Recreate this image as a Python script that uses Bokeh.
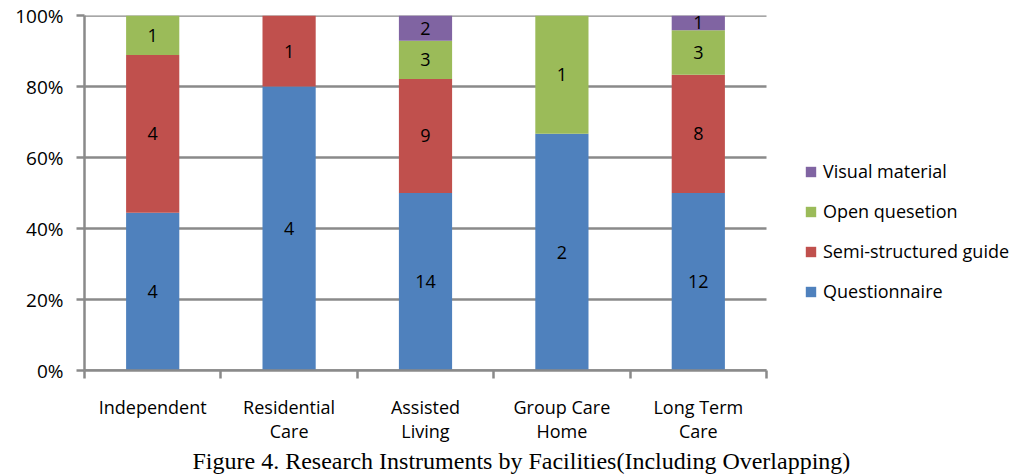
from bokeh.plotting import figure
from bokeh.models import (FixedTicker, Legend, LegendItem, Title, ColumnDataSource,
                          Range1d, NumeralTickFormatter)
from bokeh.core.properties import value
from bokeh.embed import file_html
from bokeh.resources import INLINE

# Facilities and the number of studies using each research instrument
facilities = ["Independent", "Residential Care", "Assisted Living", "Group Care Home", "Long Term Care"]
facility_tick_labels = ["Independent", "Residential\nCare", "Assisted\nLiving", "Group Care\nHome", "Long Term\nCare"]
series_names = ["Questionnaire", "Semi-structured guide", "Open quesetion", "Visual material"]
questionnaire = [4, 4, 14, 2, 12]
semi_structured = [4, 1, 9, 0, 8]
open_question = [1, 0, 3, 1, 3]
visual_material = [0, 0, 2, 0, 1]
series_colors = ["#4F81BD", "#C0504D", "#9BBB59", "#8064A2"]
y_ticks = [0, 0.2, 0.4, 0.6, 0.8, 1.0]

FONT = "Open Sans"
GRID = "#8A8A8A"

counts = [questionnaire, semi_structured, open_question, visual_material]
n = len(facilities)
totals = [sum(c[i] for c in counts) for i in range(n)]
x_pos = [i + 0.5 for i in range(n)]

# the frame runs to the right edge so the legend has room beside the bars;
# the category area itself spans 0..n
PLOT_W, LEFT, AREA_RIGHT = 1036, 84, 766
x_max = n * (PLOT_W - LEFT) / (AREA_RIGHT - LEFT)

p = figure(width=PLOT_W, height=476, x_range=Range1d(0, x_max), y_range=Range1d(0, 1),
           output_backend="svg", toolbar_location=None,
           min_border_left=LEFT, min_border_right=0, min_border_top=15, min_border_bottom=106)
p.outline_line_color = None
p.background_fill_color = "white"
p.border_fill_color = "white"

# horizontal gridlines over the category area only
p.xgrid.visible = False
p.ygrid.visible = False
p.segment(x0=[0] * len(y_ticks), x1=[n] * len(y_ticks), y0=y_ticks, y1=y_ticks,
          line_color=GRID, line_width=2.5)

# stacked 100% bars
bottoms = [0.0] * n
renderers = []
lab_x, lab_y, lab_t = [], [], []
for name, vals, color in zip(series_names, counts, series_colors):
    shares = [v / t for v, t in zip(vals, totals)]
    tops = [b + s for b, s in zip(bottoms, shares)]
    src = ColumnDataSource(dict(x=x_pos, bottom=list(bottoms), top=tops))
    r = p.vbar(x="x", bottom="bottom", top="top", width=0.39, source=src,
               fill_color=color, line_color=None)
    renderers.append((name, r))
    for xi, b, t, v in zip(x_pos, bottoms, tops, vals):
        if v > 0:
            lab_x.append(xi)
            lab_y.append((b + t) / 2)
            lab_t.append(str(v))
    bottoms = tops

p.text(x="x", y="y", text="t", source=ColumnDataSource(dict(x=lab_x, y=lab_y, t=lab_t)),
       text_align="center", text_baseline="middle", text_font=value(FONT),
       text_font_size="18px", text_color="black")

# y axis
p.yaxis.ticker = FixedTicker(ticks=y_ticks)
p.yaxis.formatter = NumeralTickFormatter(format="0%")
p.yaxis.axis_line_color = GRID
p.yaxis.axis_line_width = 2.5
p.yaxis.major_tick_line_color = GRID
p.yaxis.major_tick_line_width = 2.5
p.yaxis.major_tick_out = 8
p.yaxis.major_tick_in = 0
p.yaxis.minor_tick_line_color = None
p.yaxis.major_label_text_font = FONT
p.yaxis.major_label_text_font_size = "19px"
p.yaxis.major_label_text_color = "black"
p.yaxis.major_label_standoff = 13

# x axis: labels at bar centres, tick marks at category boundaries
p.xaxis.bounds = (0, n)
p.xaxis.ticker = FixedTicker(ticks=x_pos, minor_ticks=list(range(n + 1)))
p.xaxis.major_label_overrides = {x: lab for x, lab in zip(x_pos, facility_tick_labels)}
p.xaxis.axis_line_color = GRID
p.xaxis.axis_line_width = 2.5
p.xaxis.major_tick_line_color = None
p.xaxis.major_tick_out = 0
p.xaxis.major_tick_in = 0
p.xaxis.minor_tick_line_color = GRID
p.xaxis.minor_tick_line_width = 2.5
p.xaxis.minor_tick_out = 8
p.xaxis.minor_tick_in = 0
p.xaxis.major_label_text_font = FONT
p.xaxis.major_label_text_font_size = "18px"
p.xaxis.major_label_text_color = "black"
p.xaxis.major_label_text_line_height = 1.0
p.xaxis.major_label_standoff = 16

# legend beside the bars, top entry first
items = [LegendItem(label=name, renderers=[r]) for name, r in reversed(renderers)]
legend = Legend(items=items, location=(720, 67), margin=0, padding=0,
                spacing=16, label_height=20, glyph_width=13, glyph_height=13,
                label_standoff=6, label_text_font=FONT, label_text_font_size="18px",
                label_text_color="black", border_line_color=None,
                background_fill_alpha=0)
p.add_layout(legend)

caption = Title(text="Figure 4. Research Instruments by Facilities(Including Overlapping)",
                align="left", offset=108, standoff=0,
                text_font="Liberation Serif", text_font_size="24px",
                text_font_style="normal", text_color="black")
p.add_layout(caption, "below")

open("out.html", "w").write(file_html(p, INLINE))
